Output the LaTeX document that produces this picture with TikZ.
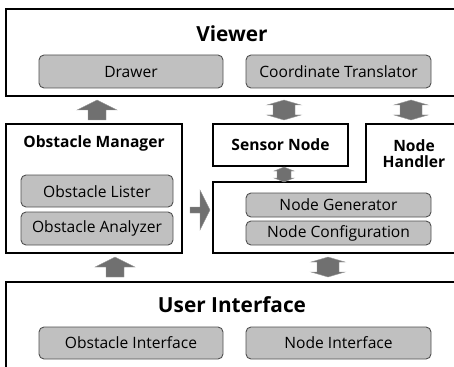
\documentclass[tikz,border=0pt]{standalone}
\usepackage{fontspec}
\setmainfont{Open Sans}
\usetikzlibrary{shapes.arrows}
\definecolor{boxfill}{HTML}{C0C0C0}
\definecolor{boxline}{HTML}{505050}
\definecolor{arrfill}{HTML}{707070}
\tikzset{
  outer/.style={draw=black,line width=1.4pt},
  inner/.style={draw=boxline,fill=boxfill,line width=0.9pt,rounded corners=5pt},
  lbl/.style={font=\fontsize{15.6}{18}\selectfont,inner sep=0pt},
  title/.style={font=\bfseries\fontsize{20.8}{24}\selectfont,inner sep=0pt},
  subtitle/.style={font=\bfseries\fontsize{15.6}{18}\selectfont,inner sep=0pt,align=center},
  blk/.style={fill=arrfill,draw=arrfill!70!white,line width=0.4pt},
}
\begin{document}
\begin{tikzpicture}[x=1pt,y=-1pt]
\useasboundingbox (0,0) rectangle (454,366);
\clip (0,0) rectangle (454,366);
% Viewer
\draw[outer] (470,9) -- (6,9) -- (6,96) -- (470,96);
\node[title] (viewer) at (232,34) {Viewer};
\draw[inner] (39,55) rectangle (223,88);
\node[lbl] (drawer) at (131,72) {Drawer};
\draw[inner] (246,55) rectangle (431,88);
\node[lbl] (coord) at (338.5,72) {Coordinate Translator};
% Obstacle Manager
\draw[outer] (6,124) rectangle (182,253);
\node[subtitle] (om) at (94,143) {Obstacle Manager};
\draw[inner] (21,175) rectangle (173,207);
\node[lbl] (ol) at (97,191.5) {Obstacle Lister};
\draw[inner] (21,212) rectangle (173,245);
\node[lbl] (oa) at (97,228.5) {Obstacle Analyzer};
% Sensor Node
\draw[outer] (213,124) rectangle (348,166);
\node[subtitle] (sn) at (280.5,145) {Sensor Node};
% Node Handler
\draw[outer] (470,124) -- (366,124) -- (366,182) -- (213,182) -- (213,253) -- (470,253);
\node[subtitle] (nh) at (414,154) {Node\\[-2pt]Handler};
\draw[inner] (246,193) rectangle (431,217);
\node[lbl] (ng) at (338.5,205) {Node Generator};
\draw[inner] (246,221) rectangle (431,245);
\node[lbl] (nc) at (338.5,233) {Node Configuration};
% User Interface
\draw[outer] (470,282) -- (6,282) -- (6,380);
\node[title] (ui) at (232,305) {User Interface};
\draw[inner] (39,327) rectangle (223,359);
\node[lbl] (oi) at (131,343) {Obstacle Interface};
\draw[inner] (246,327) rectangle (431,359);
\node[lbl] (ni) at (338.5,343) {Node Interface};
% block arrows
\draw[blk] (88,120) -- (88,110) -- (77,110) -- (97,100) -- (117,110) -- (106,110) -- (106,120) -- cycle;
\draw[blk] (106,277) -- (106,267) -- (95,267) -- (115,257) -- (135,267) -- (124,267) -- (124,277) -- cycle;
\draw[blk] (190,207) -- (200,207) -- (200,190) -- (210,210) -- (200,230) -- (200,213) -- (190,213) -- cycle;
\foreach \cx/\ty/\by/\hw/\sw/\hl in {284/100/120/17/11/5, 411/100/120/17/11/5, 328/257/277/17/11/5, 284/167/182/10/7/4}{
  \draw[blk] (\cx,\ty) -- (\cx+\hw,\ty+\hl) -- (\cx+\sw,\ty+\hl) -- (\cx+\sw,\by-\hl) -- (\cx+\hw,\by-\hl) -- (\cx,\by)
     -- (\cx-\hw,\by-\hl) -- (\cx-\sw,\by-\hl) -- (\cx-\sw,\ty+\hl) -- (\cx-\hw,\ty+\hl) -- cycle;
}
\end{tikzpicture}
\end{document}
